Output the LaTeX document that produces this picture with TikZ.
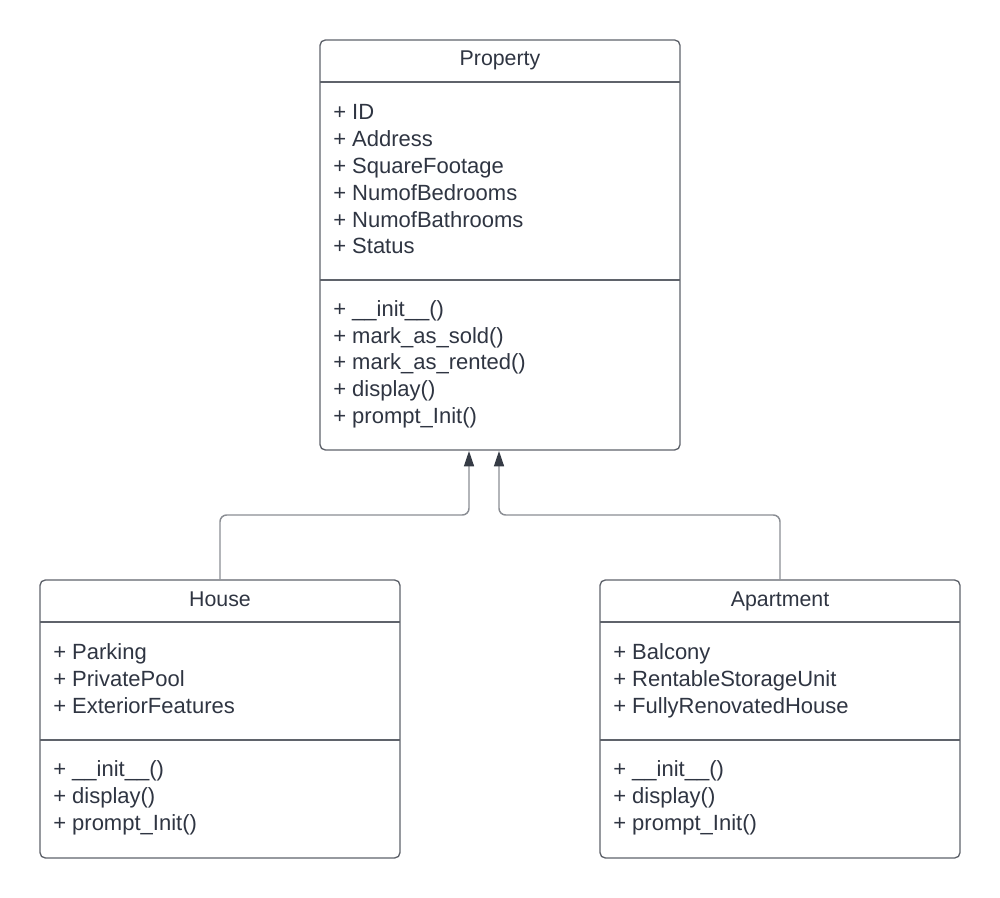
\documentclass[tikz,border=0pt]{standalone}
\usepackage{fontspec}
\setmainfont{Liberation Sans}
\usetikzlibrary{arrows.meta}
\definecolor{txt}{HTML}{2F3542}
\definecolor{border}{HTML}{5F636B}
\definecolor{conn}{HTML}{8A8D93}
\definecolor{head}{HTML}{353B45}
\tikzset{
  classbox/.style={draw=border, line width=1pt, rounded corners=4pt, inner sep=0pt, fill=white},
  divider/.style={draw=border, line width=1pt},
  ttl/.style={text=txt, font=\fontsize{16}{20}\selectfont, inner sep=0pt, anchor=base},
  lst/.style={text=txt, font=\fontsize{16.5}{20.1}\selectfont, inner sep=0pt, anchor=west, align=left},
  gen/.style={draw=conn, line width=1.1pt, rounded corners=5pt,
    -{Triangle[length=11.5pt,width=7.5pt,fill=head,color=head]}}
}
\begin{document}
\begin{tikzpicture}[x=0.75pt,y=-0.75pt]
\useasboundingbox (0,0) rectangle (1000,898);
% Property
\node[classbox, minimum width=270pt, minimum height=307.5pt] (prop) at (500,245) {};
\draw[divider] (320,82) -- (680,82);
\draw[divider] (320,280) -- (680,280);
\node[ttl] (propt) at (500,66) {Property};
\node[lst] (propa) at (333,181.5) {\strut+ ID\\+ Address\\+ SquareFootage\\+ NumofBedrooms\\+ NumofBathrooms\\+ Status\strut};
\node[lst] (propm) at (333,364.5) {\strut+ \_\_init\_\_()\\+ mark\_as\_sold()\\+ mark\_as\_rented()\\+ display()\\+ prompt\_Init()\strut};
% House
\node[classbox, minimum width=270pt, minimum height=208.5pt] (house) at (220,719) {};
\draw[divider] (40,622) -- (400,622);
\draw[divider] (40,740) -- (400,740);
\node[ttl] (houset) at (220,606) {House};
\node[lst] (housea) at (53,681) {\strut+ Parking\\+ PrivatePool\\+ ExteriorFeatures\strut};
\node[lst] (housem) at (53,798) {\strut+ \_\_init\_\_()\\+ display()\\+ prompt\_Init()\strut};
% Apartment
\node[classbox, minimum width=270pt, minimum height=208.5pt] (apt) at (780,719) {};
\draw[divider] (600,622) -- (960,622);
\draw[divider] (600,740) -- (960,740);
\node[ttl] (aptt) at (780,606) {Apartment};
\node[lst] (apta) at (613,681) {\strut+ Balcony\\+ RentableStorageUnit\\+ FullyRenovatedHouse\strut};
\node[lst] (aptm) at (613,798) {\strut+ \_\_init\_\_()\\+ display()\\+ prompt\_Init()\strut};
% connectors
\coordinate (ja) at (469,515);
\coordinate (pa) at (469,451);
\coordinate (jb) at (499,515);
\coordinate (pb) at (499,451);
\draw[gen] (house.north) |- (ja) -- (pa);
\draw[gen] (apt.north) |- (jb) -- (pb);
\end{tikzpicture}
\end{document}
